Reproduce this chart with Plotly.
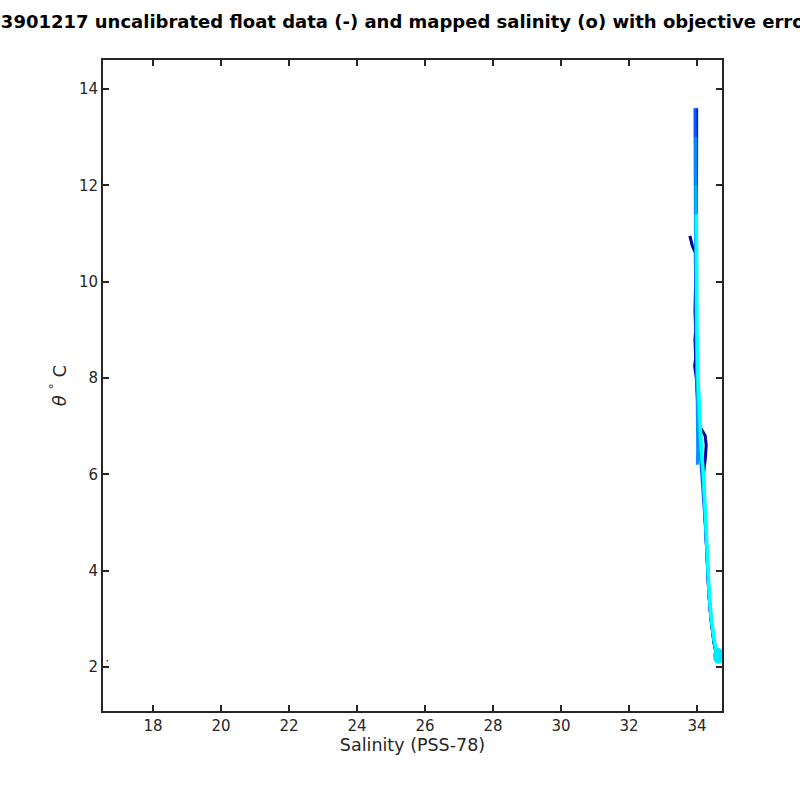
import plotly.graph_objects as go

# ---- data ----
theta_levels = [13.6, 13.0, 12.0, 11.0, 10.0, 9.0, 8.0, 7.0, 6.5, 6.0, 5.5, 5.0, 4.5, 4.0, 3.5, 3.0, 2.7, 2.5, 2.3, 2.2]

prof1_theta = [10.95, 10.75, 10.6, 10.0, 9.4, 9.0, 8.8, 8.4, 8.25, 8.0, 7.5, 7.0, 6.8, 6.6, 6.3, 6.0, 5.5, 5.0, 4.5, 4.0, 3.5, 3.0, 2.7, 2.5, 2.3, 2.2]
prof1_sal   = [33.79, 33.86, 33.95, 33.96, 33.94, 33.96, 33.94, 33.96, 33.93, 33.98, 34.02, 34.08, 34.24, 34.27, 34.24, 34.19, 34.21, 34.24, 34.28, 34.32, 34.35, 34.41, 34.46, 34.50, 34.56, 34.61]

prof2_sal = [33.99, 33.99, 33.98, 33.97, 33.97, 33.98, 34.00, 34.05, 34.10, 34.17, 34.21, 34.24, 34.28, 34.31, 34.35, 34.41, 34.46, 34.50, 34.56, 34.62]
prof3_sal = [33.94, 33.94, 33.95, 33.95, 33.96, 33.97, 33.99, 34.04, 34.09, 34.16, 34.20, 34.24, 34.28, 34.31, 34.35, 34.41, 34.46, 34.51, 34.57, 34.62]

prof4_theta = [13.0, 12.0, 11.0, 10.0, 9.0, 8.0, 7.0, 6.5, 6.2]
prof4_sal   = [33.96, 33.96, 33.97, 33.97, 33.98, 34.00, 34.02, 34.02, 34.01]

prof5_theta = [12.0, 11.0, 10.0, 9.0, 8.0, 7.0, 6.5, 6.0, 5.5, 5.0, 4.5, 4.0, 3.5, 3.0, 2.7, 2.5, 2.3, 2.2]
prof5_sal   = [33.97, 33.97, 33.98, 33.99, 34.01, 34.06, 34.11, 34.18, 34.22, 34.25, 34.29, 34.32, 34.36, 34.42, 34.47, 34.51, 34.57, 34.63]

prof6_theta = [11.4, 11.0, 10.0, 9.0, 8.0, 7.0, 6.5, 6.0, 5.5, 5.0, 4.5, 4.0, 3.5, 3.0, 2.7, 2.5, 2.3, 2.2]
prof6_sal   = [33.98, 33.98, 33.99, 34.00, 34.03, 34.08, 34.13, 34.19, 34.22, 34.25, 34.29, 34.32, 34.36, 34.42, 34.47, 34.52, 34.58, 34.63]

bad_theta = [2.12, 2.14]
bad_sal   = [16.64, 16.68]

map_theta = [2.18, 2.22, 2.26, 2.20, 2.24, 2.30, 2.16]
map_sal   = [34.61, 34.62, 34.63, 34.64, 34.60, 34.62, 34.63]
map_err   = [0.02, 0.02, 0.03, 0.02, 0.02, 0.03, 0.02]

x_ticks = [18, 20, 22, 24, 26, 28, 30, 32, 34]
y_ticks = [2, 4, 6, 8, 10, 12, 14]

fig = go.Figure()

def line(x, y, color, w=3):
    fig.add_trace(go.Scatter(x=x, y=y, mode="lines", line=dict(color=color, width=w),
                             showlegend=False, hoverinfo="skip"))

line(bad_sal, bad_theta, "#e00000", 1.5)
line(prof1_sal, prof1_theta, "#00009a")
line(prof2_sal, theta_levels, "#0010ff")
line(prof3_sal, theta_levels, "#0060ff")
line(prof4_sal, prof4_theta, "#0090ff")
line(prof5_sal, prof5_theta, "#00b8ff")
line(prof6_sal, prof6_theta, "#00ffff", 3.5)

fig.add_trace(go.Scatter(x=map_sal, y=map_theta, mode="markers",
                         marker=dict(symbol="circle-open", size=7, color="#00e8ff", line=dict(width=2)),
                         error_x=dict(type="data", array=map_err, color="#00e8ff", thickness=1.5, width=3),
                         showlegend=False, hoverinfo="skip"))

axis_common = dict(showline=True, linecolor="#262626", linewidth=2, mirror="allticks",
                   ticks="inside", ticklen=6, tickwidth=2, tickcolor="#262626",
                   showgrid=False, zeroline=False,
                   tickfont=dict(family="DejaVu Sans", size=15, color="#262626"))

fig.update_xaxes(range=[16.53, 34.735], tickvals=x_ticks,
                 title=dict(text="Salinity (PSS-78)", font=dict(family="DejaVu Sans", size=17.5, color="#262626"), standoff=5),
                 **axis_common)
fig.update_yaxes(range=[1.087, 14.60], tickvals=y_ticks,
                 title=dict(text="<i>θ</i> <sup>°</sup> C", font=dict(family="DejaVu Sans", size=18, color="#262626"), standoff=8),
                 **axis_common)

fig.update_layout(
    width=800, height=800,
    margin=dict(l=103, r=78, t=60, b=89),
    paper_bgcolor="white", plot_bgcolor="white",
    title=dict(text="<b>3901217 uncalibrated float data (-) and mapped salinity (o) with objective errors</b>",
               x=0.5, xref="paper", xanchor="center",
               y=1-22/800, yref="container", yanchor="middle",
               font=dict(family="DejaVu Sans", size=18, color="black")),
)

fig.write_html("out.html", config={"displayModeBar": False},
               post_script="document.body.style.margin='0';")
